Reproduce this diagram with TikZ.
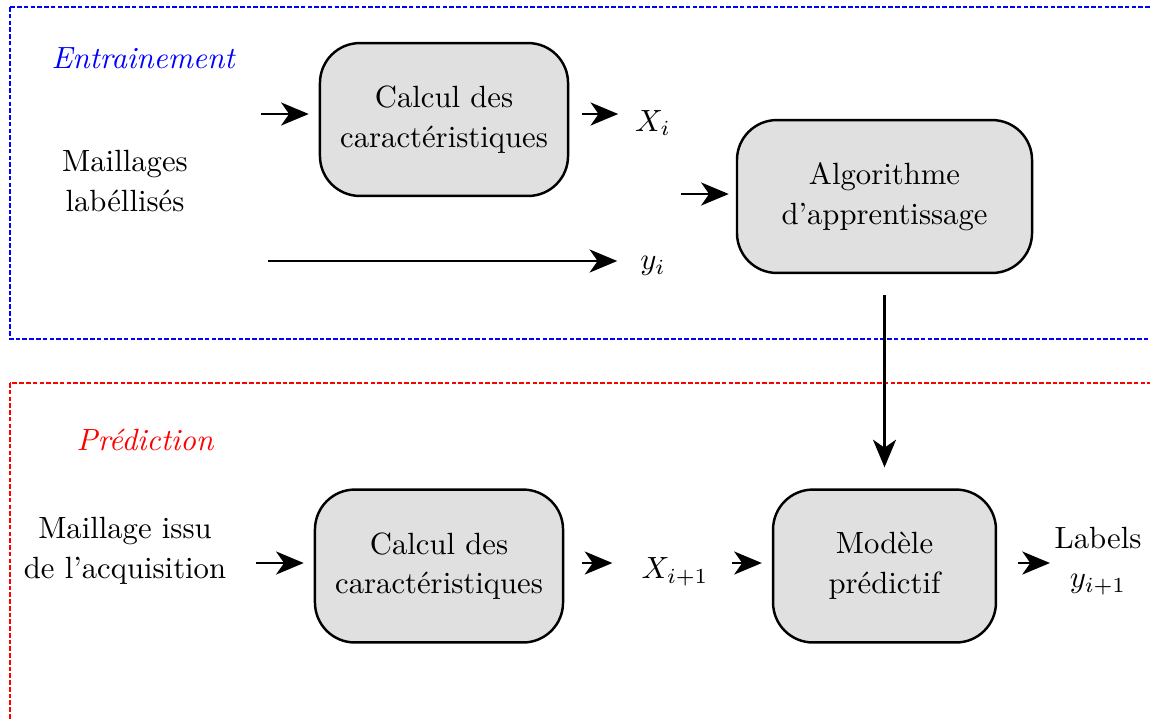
\documentclass[tikz,border=0pt]{standalone}
\usetikzlibrary{arrows.meta}

\tikzset{
  bloc/.style={draw, thick, fill=black!12, rounded corners=13pt,
    minimum width=80.8pt, minimum height=49.8pt, align=center,
    font=\fontsize{10}{12.9}\selectfont},
  texte/.style={align=center, font=\fontsize{10}{12.9}\selectfont},
  fleche/.style={thick, -{Stealth[length=9pt,width=7.5pt,inset=2.6pt]}},
  cadre/.style={line width=0.6pt, dash pattern=on 1.5pt off 0.7pt}
}

\begin{document}
\begin{tikzpicture}[x=0.3257pt, y=-0.3257pt]
  \useasboundingbox (0,0) rectangle (1150,718);
  \clip (0,0) rectangle (1150,718);

  % cadres
  \draw[cadre, blue] (10,7) rectangle (1180,339);
  \draw[cadre, red] (10,383) rectangle (1180,760);
  \node[blue, font=\itshape] (titreE) at (143,58) {Entrainement};
  \node[red, font=\itshape] (titreP) at (145,440) {Prédiction};

  % entrainement
  \node[texte] (maillages) at (125,181) {Maillages\\labéllisés};
  \node[bloc] (calculE) at (444,119.5) {Calcul des\\caractéristiques};
  \node[bloc, minimum width=96.1pt] (algo) at (884.5,196.5) {Algorithme\\d’apprentissage};
  \node (xi) at (653,123) {$X_i$};
  \node (yi) at (653,266) {$y_i$};
  \coordinate (depE) at (261,114);
  \coordinate (depY) at (268,261);
  \coordinate (depA) at (681,194);

  \draw[fleche, shorten >=10pt*0.3257] (depE) -- (depE -| calculE.west);
  \draw[fleche] ([xshift=13*0.3257pt]calculE.east |- depE) -- ([xshift=-2pt]xi.west |- depE);
  \draw[fleche] (depY) -- ([xshift=-4pt]yi.west |- depY);
  \draw[fleche, shorten >=7pt*0.3257] (depA) -- (depA -| algo.west);

  % prediction
  \node[texte] (acquis) at (125,551) {Maillage issu\\de l’acquisition};
  \node[bloc] (calculP) at (439,566) {Calcul des\\caractéristiques};
  \node[bloc, minimum width=72.6pt] (modele) at (884.5,566) {Modèle\\prédictif};
  \node (xii) at (675,572) {$X_{i+1}$};
  \node[texte] (labels) at (1098,561) {Labels\\$y_{i+1}$};
  \coordinate (depP) at (256,563);

  \draw[fleche, shorten >=10pt*0.3257] (depP) -- (depP -| calculP.west);
  \draw[fleche] ([xshift=18*0.3257pt]calculP.east |- depP) -- ([xshift=-6pt]xii.west |- depP);
  \draw[fleche] ([xshift=4pt]xii.east |- depP) -- ([xshift=-10*0.3257pt]modele.west |- depP);
  \draw[fleche] ([xshift=21*0.3257pt]modele.east |- depP) -- ([xshift=2pt]labels.west |- depP);

  % modele appris
  \draw[fleche] ([yshift=-21*0.3257pt]algo.south) -- ([yshift=21*0.3257pt]modele.north);
\end{tikzpicture}
\end{document}
